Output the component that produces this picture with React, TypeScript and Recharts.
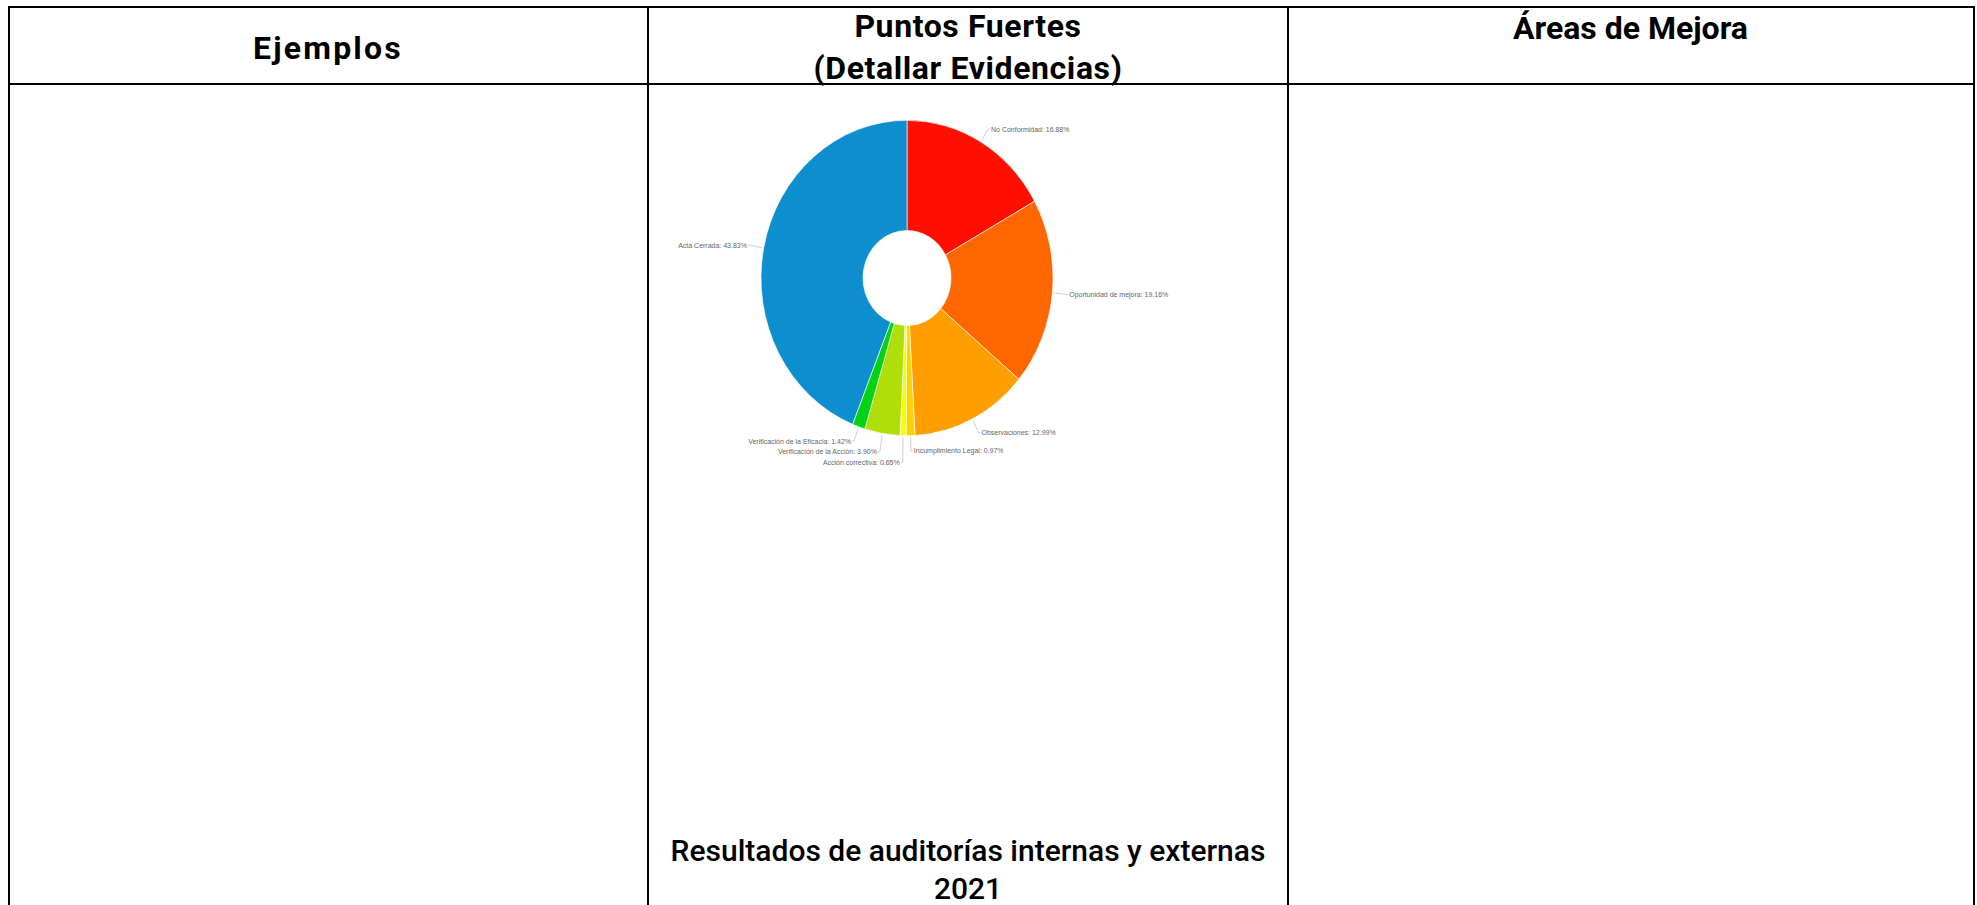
import React from 'react';
import { PieChart, Pie, Cell } from 'recharts';

const categories = [
  'No Conformidad',
  'Oportunidad de mejora',
  'Observaciones',
  'Incumplimiento Legal',
  'Acción correctiva',
  'Verificación de la Acción',
  'Verificación de la Eficacia',
  'Acta Cerrada',
];
const percentages = [16.88, 19.16, 12.99, 0.97, 0.65, 3.9, 1.42, 43.83];
const sliceColors = ['#FF0F00', '#FF6600', '#FF9E01', '#FCD202', '#F8FF01', '#B0DE09', '#04D215', '#0D8ECF'];

const headers = ['Ejemplos', 'Puntos Fuertes', '(Detallar Evidencias)', 'Áreas de Mejora'];
const footerLines = ['Resultados de auditorías internas y externas', '2021'];

const data = categories.map((name, i) => ({ name, value: percentages[i] }));

const RADIAN = Math.PI / 180;
const LABEL_GAP = 10;

// amCharts-like label placement: radial position, then push down labels on the same side that overlap
function layoutLabels(cx: number, cy: number, r: number) {
  const total = percentages.reduce((a, b) => a + b, 0);
  let acc = 0;
  const items = percentages.map((v, i) => {
    const mid = 90 - ((acc + v / 2) / total) * 360;
    acc += v;
    const x = cx + r * Math.cos(-mid * RADIAN);
    const y = cy + r * Math.sin(-mid * RADIAN);
    return { i, x, y, right: Math.cos(-mid * RADIAN) >= 0 };
  });
  [true, false].forEach((side) => {
    const list = items.filter((it) => it.right === side).sort((a, b) => a.y - b.y);
    for (let k = 1; k < list.length; k++) {
      if (list[k].y < list[k - 1].y + LABEL_GAP) list[k].y = list[k - 1].y + LABEL_GAP;
    }
  });
  return items;
}

const renderLabel = (props: any) => {
  const { cx, cy, outerRadius, midAngle, index, name, value } = props;
  const pos = layoutLabels(cx, cy, outerRadius + 14)[index];
  const ex = cx + (outerRadius + 2) * Math.cos(-midAngle * RADIAN);
  const ey = cy + (outerRadius + 2) * Math.sin(-midAngle * RADIAN);
  const tx = pos.right ? pos.x + 3 : pos.x - 3;
  return (
    <g>
      <polyline
        points={`${ex},${ey} ${pos.x},${pos.y} ${tx - (pos.right ? 1 : -1)},${pos.y}`}
        fill="none"
        stroke="#c4c4c4"
        strokeWidth={0.8}
      />
      <text
        x={tx}
        y={pos.y}
        textAnchor={pos.right ? 'start' : 'end'}
        dominantBaseline="central"
        fill="#666"
        fontSize={7}
        fontFamily="Liberation Sans, Arial, sans-serif"
      >
        {`${name}: ${value.toFixed(2)}%`}
      </text>
    </g>
  );
};

const line = (left: number, top: number, width: number, height: number) => (
  <div style={{ position: 'absolute', left, top, width, height, background: '#000' }} />
);

const PIE_CX = 245;
const PIE_CY = 192;

const App: React.FC = () => {
  const headStyle: React.CSSProperties = {
    position: 'absolute',
    textAlign: 'center',
    fontFamily: 'Roboto, sans-serif',
    fontWeight: 700,
    fontSize: 32,
    color: '#000',
    zIndex: 2,
  };

  return (
    <div
      style={{
        position: 'absolute',
        left: 0,
        top: 0,
        width: 1977,
        height: 905,
        overflow: 'hidden',
        background: '#fff',
      }}
    >
      {line(8, 6, 1967, 2)}
      {line(8, 6, 2, 905)}
      {line(647, 6, 2, 905)}
      {line(1287, 6, 2, 905)}
      {line(1973, 6, 2, 905)}
      {line(8, 83, 1967, 2)}

      <div style={{ ...headStyle, left: 8, width: 640, top: 28, lineHeight: '40px', letterSpacing: 2.2 }}>
        {headers[0]}
      </div>
      <div style={{ ...headStyle, left: 648, width: 640, top: 5, lineHeight: '42px', letterSpacing: 0.6 }}>
        {headers[1]}
        <br />
        {headers[2]}
      </div>
      <div style={{ ...headStyle, left: 1288, width: 685, top: 8, lineHeight: '40px' }}>{headers[3]}</div>

      <div
        style={{
          position: 'absolute',
          left: 662,
          top: 86,
          width: 580,
          height: 420,
          background: '#fff',
          zIndex: 1,
        }}
      >
        <div style={{ transform: 'scale(1, 1.08)', transformOrigin: `${PIE_CX}px ${PIE_CY}px` }}>
          <PieChart width={580} height={400} margin={{ top: 0, right: 0, bottom: 0, left: 0 }}>
            <Pie
              data={data}
              dataKey="value"
              nameKey="name"
              cx={PIE_CX}
              cy={PIE_CY}
              innerRadius={44}
              outerRadius={146}
              startAngle={90}
              endAngle={-270}
              stroke="#fff"
              strokeWidth={0.6}
              label={renderLabel}
              labelLine={false}
              isAnimationActive={false}
            >
              {data.map((entry, index) => (
                <Cell key={`cell-${index}`} fill={sliceColors[index]} />
              ))}
            </Pie>
          </PieChart>
        </div>
      </div>

      <div
        style={{
          position: 'absolute',
          left: 648,
          width: 640,
          top: 832,
          lineHeight: '38px',
          textAlign: 'center',
          fontFamily: 'Roboto, sans-serif',
          fontWeight: 500,
          fontSize: 30,
          color: '#000',
          zIndex: 2,
        }}
      >
        {footerLines[0]}
        <br />
        {footerLines[1]}
      </div>
    </div>
  );
};

export default App;
